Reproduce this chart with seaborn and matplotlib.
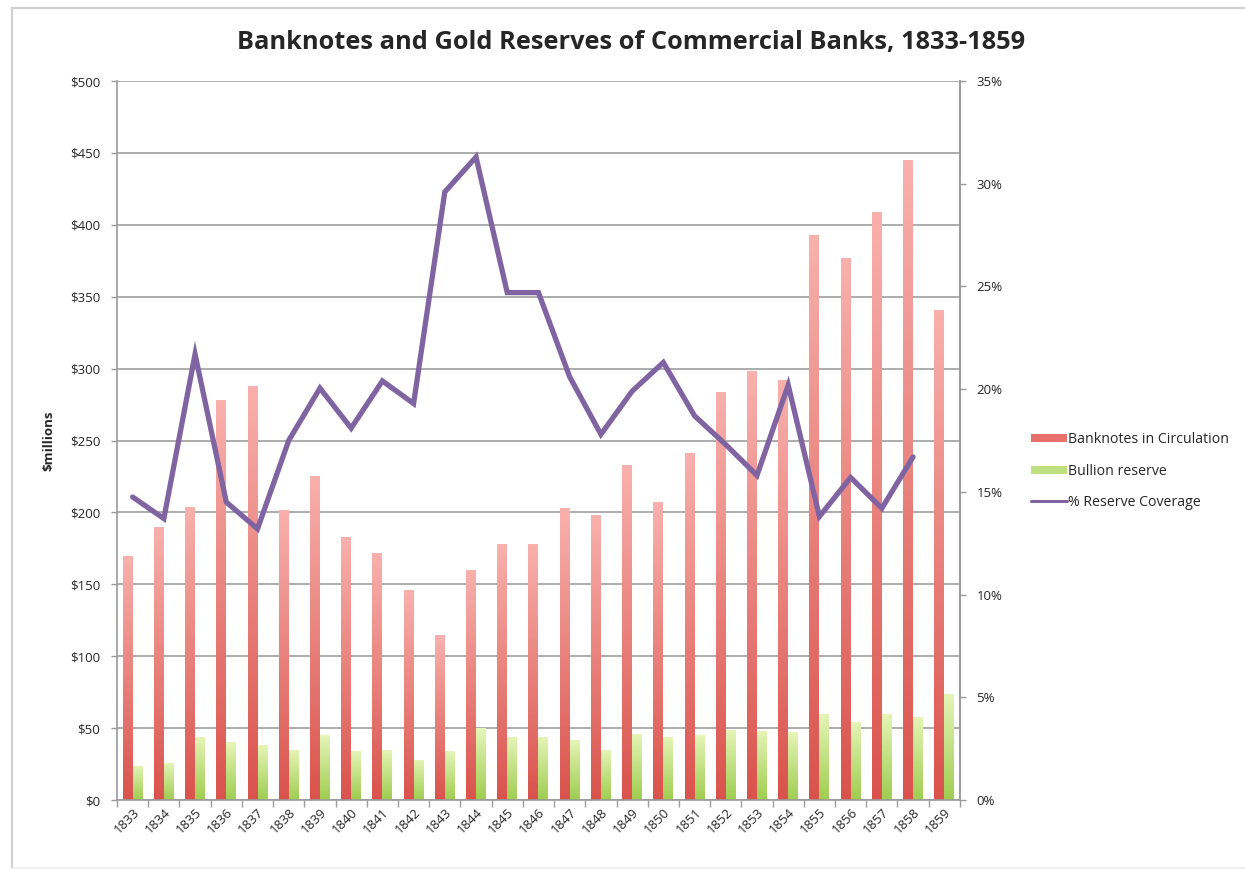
import numpy as np
import pandas as pd
import matplotlib
matplotlib.use("Agg")
import matplotlib.pyplot as plt
from matplotlib.colors import LinearSegmentedColormap
from matplotlib.patches import Patch
from matplotlib.lines import Line2D
from matplotlib.ticker import MultipleLocator, FuncFormatter, FixedLocator
import seaborn as sns

years = [str(y) for y in range(1833, 1860)]
banknotes = [170, 190, 204, 278, 288, 202, 225, 183, 172, 146, 115, 160, 178, 178,
             203, 198, 233, 207, 241, 284, 298, 292, 393, 377, 409, 445, 341]
bullion = [24, 26, 44, 40, 38, 35, 45, 34, 35, 28, 34, 50, 44, 44,
           42, 35, 46, 44, 45, 49, 48, 47, 60, 54, 60, 58, 74]
coverage = [14.75, 13.7, 21.7, 14.5, 13.2, 17.5, 20.05, 18.1, 20.4, 19.3, 29.6, 31.3, 24.7, 24.7,
            20.6, 17.8, 19.9, 21.3, 18.7, 17.3, 15.8, 20.2, 13.8, 15.7, 14.2, 16.7]
series_names = ["Banknotes in Circulation", "Bullion reserve"]
line_name = "% Reserve Coverage"

df = pd.DataFrame({
    "year": years * 2,
    "value": banknotes + bullion,
    "series": [series_names[0]] * len(years) + [series_names[1]] * len(years),
})

sns.set_theme(style="white")
plt.rcParams["font.family"] = ["Open Sans", "DejaVu Sans"]

fig = plt.figure(figsize=(12.45, 8.71), dpi=100)
ax = fig.add_axes([0.094, 0.0815, 0.677, 0.8255])

red_top, red_bot = "#f9b1ad", "#d9534c"
grn_top, grn_bot = "#e6f5b8", "#9fcd50"

sns.barplot(data=df, x="year", y="value", hue="series", order=years,
            hue_order=series_names, palette=[red_bot, grn_bot], width=0.64,
            dodge=True, ax=ax, legend=False, saturation=1, linewidth=0)

# vertical gradient fill for each bar, lighter toward the top
cmaps = [
    LinearSegmentedColormap.from_list("r", [red_bot, red_top]),
    LinearSegmentedColormap.from_list("g", [grn_bot, grn_top]),
]
grad = np.linspace(0, 1, 256).reshape(-1, 1)
n = len(years)
for i, p in enumerate(list(ax.patches)):
    cmap = cmaps[0] if i < n else cmaps[1]
    x0, y0 = p.get_x(), p.get_y()
    w, h = p.get_width(), p.get_height()
    if h <= 0:
        continue
    im = ax.imshow(grad, cmap=cmap, origin="lower", aspect="auto",
                   extent=(x0, x0 + w, y0, y0 + h), zorder=2)
    im.set_clip_path(p)
    p.set_facecolor("none")
ax.set_xlim(-0.5, n - 0.5)
ax.set_ylim(0, 500)

axis_c = "#9a9a9a"
ax.yaxis.set_major_locator(MultipleLocator(50))
ax.yaxis.set_major_formatter(FuncFormatter(lambda v, _: f"${v:.0f}"))
ax.grid(axis="y", color="#a6a6a6", linewidth=1.3, zorder=0)
ax.set_axisbelow(True)
ax.spines["top"].set_visible(False)
for side in ["left", "right", "bottom"]:
    ax.spines[side].set_color(axis_c)
    ax.spines[side].set_linewidth(1.2)

ax.set_xlabel("")
ax.set_ylabel("$millions", fontsize=9.5, fontweight="bold")
ax.yaxis.set_label_coords(-0.073, 0.5)
ax.tick_params(axis="y", which="major", length=4, width=1, color=axis_c,
               labelsize=9.5, pad=8, left=True)
ax.tick_params(axis="x", which="major", length=0, labelsize=9.5, pad=4)
ax.set_xticks(range(n))
ax.set_xticklabels(years, rotation=45, ha="right", rotation_mode="anchor")
ax.xaxis.set_minor_locator(FixedLocator(np.arange(-0.5, n, 1.0)))
ax.tick_params(axis="x", which="minor", length=5, width=1, color=axis_c, bottom=True)

ax2 = ax.twinx()
sns.lineplot(x=np.arange(len(coverage)), y=coverage, ax=ax2, color="#8064a2",
             linewidth=3.8, solid_joinstyle="miter", zorder=5)
ax2.set_ylim(0, 35)
ax2.set_xlim(-0.5, n - 0.5)
ax2.yaxis.set_major_locator(MultipleLocator(5))
ax2.yaxis.set_major_formatter(FuncFormatter(lambda v, _: f"{v:.0f}%"))
ax2.tick_params(axis="y", length=4, width=1, color=axis_c, labelsize=9.5, pad=8, right=True)
ax2.grid(False)
ax2.set_ylabel("")
for side in ["top", "left", "bottom"]:
    ax2.spines[side].set_visible(False)
ax2.spines["right"].set_color(axis_c)
ax2.spines["right"].set_linewidth(1.2)

fig.suptitle("Banknotes and Gold Reserves of Commercial Banks, 1833-1859",
             x=0.507, y=0.966, fontsize=18.3, fontweight="bold")

handles = [
    Patch(facecolor="#e8716b", edgecolor="none", label=series_names[0]),
    Patch(facecolor="#bfe07f", edgecolor="none", label=series_names[1]),
    Line2D([0], [0], color="#8064a2", linewidth=2.2, label=line_name),
]
fig.legend(handles=handles, loc="center left", bbox_to_anchor=(0.818, 0.459),
           frameon=False, fontsize=10.2, handlelength=2.5, handleheight=0.5,
           handletextpad=0.1, labelspacing=1.15)

# outer frame of the chart area (top, left, bottom edges)
frame_kw = dict(transform=fig.transFigure, color="#d0d0d0", linewidth=1.6)
fig.lines.append(Line2D([0.0098, 1.0], [0.9905, 0.9905], **frame_kw))
fig.lines.append(Line2D([0.0098, 0.0098], [0.004, 0.9905], **frame_kw))
fig.lines.append(Line2D([0.0098, 1.0], [0.004, 0.004], transform=fig.transFigure,
                        color="#ececec", linewidth=1.2))

fig.savefig("out.png", dpi=100)
